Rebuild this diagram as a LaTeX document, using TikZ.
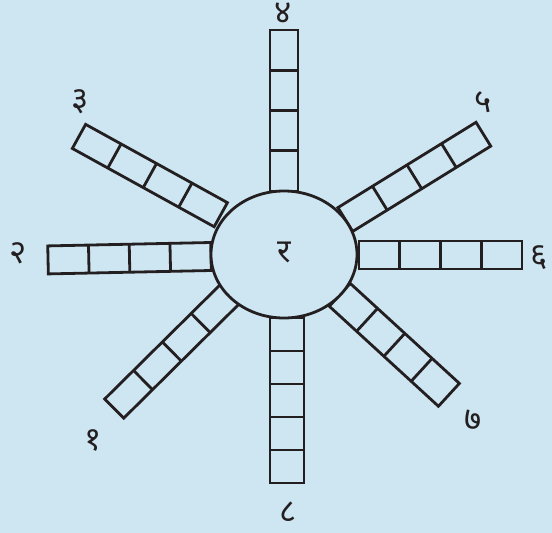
\documentclass[tikz,border=0pt]{standalone}
\usepackage{fontspec}
\usetikzlibrary{shapes.geometric}
\newfontfamily\deva[Script=Devanagari]{Noto Sans}
\definecolor{bgblue}{RGB}{206,230,242}
\definecolor{ink}{RGB}{35,31,32}
\newcommand\drawarm[6]{%
  \begin{scope}[shift={(#1,#2)},rotate=#3]
    \draw[armline] (0,-#5/2) rectangle (#4,#5/2);
    \pgfmathsetmacro\cellw{#4/#6}
    \pgfmathtruncatemacro\lastk{#6-1}
    \foreach \k in {1,...,\lastk}{\draw[armline] (\k*\cellw,-#5/2) -- (\k*\cellw,#5/2);}
  \end{scope}}
\tikzset{
  armline/.style={draw=ink,line width=2.8pt,line join=miter},
  numlabel/.style={text=ink,font=\deva\fontsize{33}{38}\selectfont,inner sep=0pt},
}
\begin{document}
\begin{tikzpicture}[x=1pt,y=1pt]
\fill[bgblue] (0,0) rectangle (552,-533);
\useasboundingbox (0,0) rectangle (552,-533);
% arms
\drawarm{284}{-191}{90}{161}{28}{4}
\drawarm{287}{-318}{-90}{165}{34}{5}
\drawarm{359}{-255}{0}{163}{28}{4}
\drawarm{211}{-256.5}{181.2}{163}{28}{4}
\drawarm{220.8}{-214.7}{151.1}{162}{27.5}{4}
\drawarm{345.3}{-219.5}{31.7}{162.3}{28}{4}
\drawarm{229.5}{-294.5}{224.7}{162.2}{27}{4}
\drawarm{339.8}{-294.85}{-42.5}{148}{31}{4}
% centre
\node[ellipse,draw=ink,fill=bgblue,line width=2.8pt,minimum width=146pt,minimum height=127pt,inner sep=0pt] (hub) at (284,-254.5) {};
\node[numlabel] (ra) at (284,-252) {र};
% labels
\node[numlabel] (n1) at (93,-440) {१};
\node[numlabel] (n2) at (18,-253) {२};
\node[numlabel] (n3) at (80,-102) {३};
\node[numlabel] (n4) at (283,-13) {४};
\node[numlabel] (n5) at (483,-102) {५};
\node[numlabel] (n6) at (539,-258) {६};
\node[numlabel] (n7) at (473,-420) {७};
\node[numlabel] (n8) at (288,-512) {८};
\end{tikzpicture}
\end{document}
